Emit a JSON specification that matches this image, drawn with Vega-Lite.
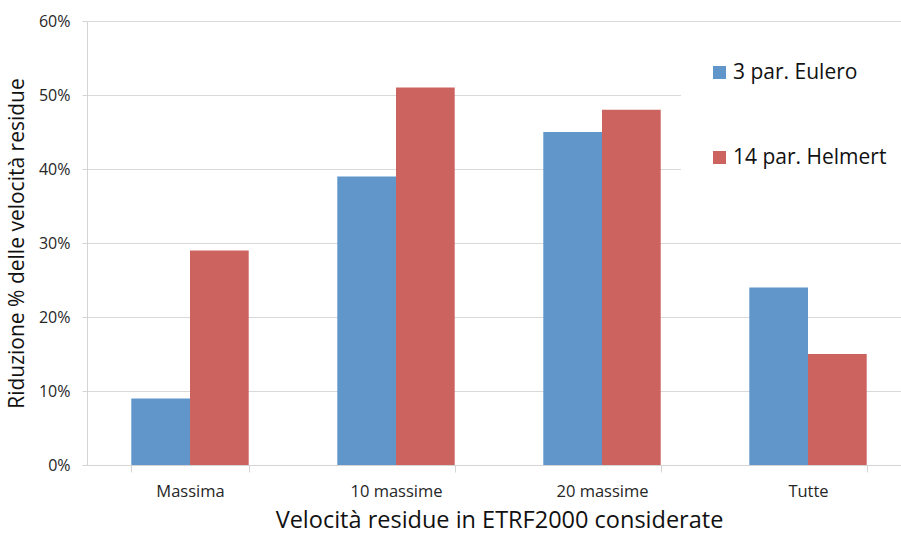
{
  "$schema": "https://vega.github.io/schema/vega-lite/v6.json",
  "width": 824,
  "height": 444,
  "autosize": {"type": "none"},
  "padding": {"left": 87, "top": 21, "right": -10, "bottom": 69},
  "background": "white",
  "config": {
    "font": "Open Sans",
    "view": {"stroke": null}
  },
  "data": {
    "values": [
      {"categoria": "Massima", "serie": "3 par. Eulero", "valore": 0.09},
      {"categoria": "Massima", "serie": "14 par. Helmert", "valore": 0.29},
      {"categoria": "10 massime", "serie": "3 par. Eulero", "valore": 0.39},
      {"categoria": "10 massime", "serie": "14 par. Helmert", "valore": 0.51},
      {"categoria": "20 massime", "serie": "3 par. Eulero", "valore": 0.45},
      {"categoria": "20 massime", "serie": "14 par. Helmert", "valore": 0.48},
      {"categoria": "Tutte", "serie": "3 par. Eulero", "valore": 0.24},
      {"categoria": "Tutte", "serie": "14 par. Helmert", "valore": 0.15}
    ]
  },
  "mark": {"type": "bar"},
  "encoding": {
    "x": {
      "field": "categoria",
      "type": "nominal",
      "sort": ["Massima", "10 massime", "20 massime", "Tutte"],
      "scale": {"paddingInner": 0.43, "paddingOuter": 0.215},
      "axis": {
        "title": "Velocità residue in ETRF2000 considerate",
        "titleFontSize": 23.5,
        "titleFontWeight": "normal",
        "titleColor": "#111111",
        "titlePadding": 9,
        "labelAngle": 0,
        "labelFontSize": 16.5,
        "labelColor": "#262626",
        "labelPadding": 11,
        "tickBand": "extent",
        "tickSize": 7,
        "tickColor": "#d4d4d4",
        "domainColor": "#d4d4d4",
        "grid": false
      }
    },
    "xOffset": {
      "field": "serie",
      "type": "nominal",
      "sort": ["3 par. Eulero", "14 par. Helmert"]
    },
    "y": {
      "field": "valore",
      "type": "quantitative",
      "scale": {"domain": [0, 0.6], "nice": false},
      "axis": {
        "title": "Riduzione % delle velocità residue",
        "titleFontSize": 21,
        "titleFontWeight": "normal",
        "titleColor": "#111111",
        "titlePadding": 11,
        "values": [0, 0.1, 0.2, 0.3, 0.4, 0.5, 0.6],
        "format": ".0%",
        "labelFontSize": 16,
        "labelColor": "#262626",
        "labelPadding": 12,
        "tickSize": 5,
        "tickColor": "#d4d4d4",
        "domainColor": "#d4d4d4",
        "gridColor": "#d9d9d9"
      }
    },
    "color": {
      "field": "serie",
      "type": "nominal",
      "sort": ["3 par. Eulero", "14 par. Helmert"],
      "scale": {
        "domain": ["3 par. Eulero", "14 par. Helmert"],
        "range": ["#6096ca", "#cd635e"]
      },
      "legend": {
        "title": null,
        "orient": "none",
        "legendX": 594,
        "legendY": 13,
        "padding": 28,
        "fillColor": "white",
        "symbolType": "square",
        "symbolSize": 169,
        "symbolStrokeWidth": 0,
        "labelFontSize": 21,
        "labelColor": "#111111",
        "labelOffset": 3,
        "rowPadding": 63,
        "labelLimit": 300
      }
    }
  }
}
